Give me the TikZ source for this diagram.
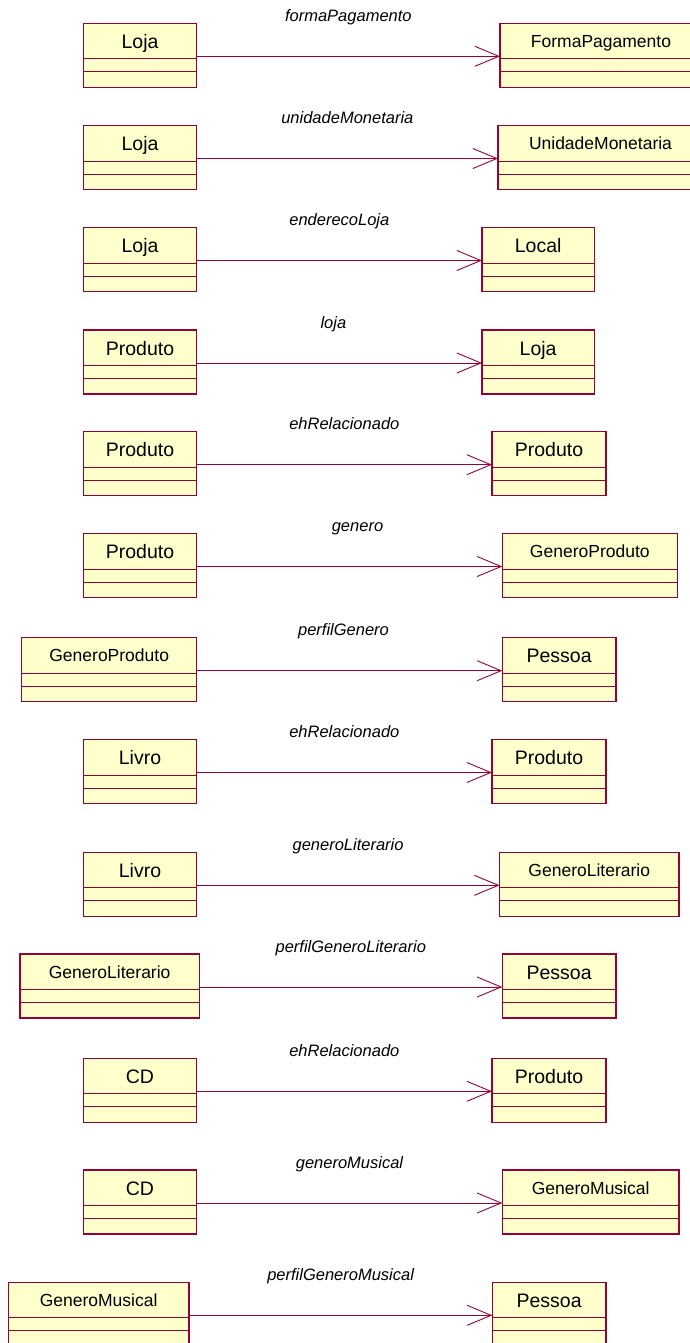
\documentclass[tikz,border=0pt]{standalone}
\usepackage{fontspec}
\setmainfont{Liberation Sans}
\usetikzlibrary{calc,arrows.meta}
\definecolor{roseborder}{HTML}{990033}
\definecolor{rosefill}{HTML}{FFFFCC}
\tikzset{
  classbox/.style={draw=roseborder, fill=rosefill, line width=1.2pt, rectangle,
    inner sep=0pt, outer sep=0pt, minimum height=64pt},
  compline/.style={draw=roseborder, line width=0.9pt},
  shortname/.style={font=\fontsize{19.5}{23}\selectfont, inner sep=0pt, text=black,
    anchor=base, yshift=-25pt},
  longname/.style={font=\fontsize{17.5}{21}\selectfont, inner sep=0pt, text=black,
    anchor=base, yshift=-24pt},
  assocline/.style={draw=roseborder, line width=0.9pt,
    -{Straight Barb[length=24pt,width=20pt,line width=0.9pt]}},
  rolelabel/.style={font=\fontsize{16.5}{20}\selectfont\itshape, inner sep=0pt, text=black,
    anchor=base}
}
\newcommand\umlclass[6]{%
  \node[classbox, anchor=north west, minimum width={#3pt-#2pt}] (#1) at (#2,-#4) {};
  \draw[compline] ($(#1.north west)+(0,-35.5pt)$) -- ($(#1.north east)+(0,-35.5pt)$);
  \draw[compline] ($(#1.north west)+(0,-48.5pt)$) -- ($(#1.north east)+(0,-48.5pt)$);
  \node[#5] (#1-t) at (#1.north) {#6};
}
\newcommand\assoc[4]{%
  \draw[assocline] ($(#1.north east)+(0,-33pt)$) -- ($(#2.north west)+(0,-33pt)$)
    node[rolelabel, midway, yshift=35pt, xshift=#4pt] (#1-#2-l) {#3};
}
\begin{document}
\begin{tikzpicture}[x=1pt,y=1pt]
\useasboundingbox (0,0) rectangle (690,-1343);
\clip (0,0) rectangle (690,-1343);
% row 1
\umlclass{a1}{83.3}{196.7}{23.3}{shortname}{Loja}
\umlclass{b1}{500}{702}{23.3}{longname}{FormaPagamento}
\assoc{a1}{b1}{formaPagamento}{0}
% row 2
\umlclass{a2}{83.3}{196.7}{125.5}{shortname}{Loja}
\umlclass{b2}{498}{703}{125.5}{longname}{UnidadeMonetaria}
\assoc{a2}{b2}{unidadeMonetaria}{0}
% row 3
\umlclass{a3}{83.3}{196.7}{227.5}{shortname}{Loja}
\umlclass{b3}{482}{594.3}{227.5}{shortname}{Local}
\assoc{a3}{b3}{enderecoLoja}{0}
% row 4
\umlclass{a4}{83.3}{196.7}{330}{shortname}{Produto}
\umlclass{b4}{482}{594.3}{330}{shortname}{Loja}
\assoc{a4}{b4}{loja}{-6}
% row 5
\umlclass{a5}{83.3}{196.7}{431.7}{shortname}{Produto}
\umlclass{b5}{492}{606}{431.7}{shortname}{Produto}
\assoc{a5}{b5}{ehRelacionado}{0}
% row 6
\umlclass{a6}{83.3}{196.7}{533.5}{shortname}{Produto}
\umlclass{b6}{502.3}{677.3}{533.5}{longname}{GeneroProduto}
\assoc{a6}{b6}{genero}{8}
% row 7
\umlclass{a7}{21.7}{196.7}{637.7}{longname}{GeneroProduto}
\umlclass{b7}{502.3}{616}{637.7}{shortname}{Pessoa}
\assoc{a7}{b7}{perfilGenero}{-6}
% row 8
\umlclass{a8}{83.3}{196.7}{739.5}{shortname}{Livro}
\umlclass{b8}{492}{606}{739.5}{shortname}{Produto}
\assoc{a8}{b8}{ehRelacionado}{0}
% row 9
\umlclass{a9}{83.3}{196.7}{852.3}{shortname}{Livro}
\umlclass{b9}{499.5}{679}{852.3}{longname}{GeneroLiterario}
\assoc{a9}{b9}{generoLiterario}{0}
% row 10
\umlclass{a10}{20}{199.3}{954}{longname}{GeneroLiterario}
\umlclass{b10}{502.3}{616}{954}{shortname}{Pessoa}
\assoc{a10}{b10}{perfilGeneroLiterario}{0}
% row 11
\umlclass{a11}{83.3}{196.7}{1058.3}{shortname}{CD}
\umlclass{b11}{492}{606}{1058.3}{shortname}{Produto}
\assoc{a11}{b11}{ehRelacionado}{0}
% row 12
\umlclass{a12}{83.3}{196.7}{1170}{shortname}{CD}
\umlclass{b12}{502.3}{679}{1170}{longname}{GeneroMusical}
\assoc{a12}{b12}{generoMusical}{0}
% row 13
\umlclass{a13}{8.3}{189}{1282.3}{longname}{GeneroMusical}
\umlclass{b13}{492.3}{606}{1282.3}{shortname}{Pessoa}
\assoc{a13}{b13}{perfilGeneroMusical}{0}
\end{tikzpicture}
\end{document}
